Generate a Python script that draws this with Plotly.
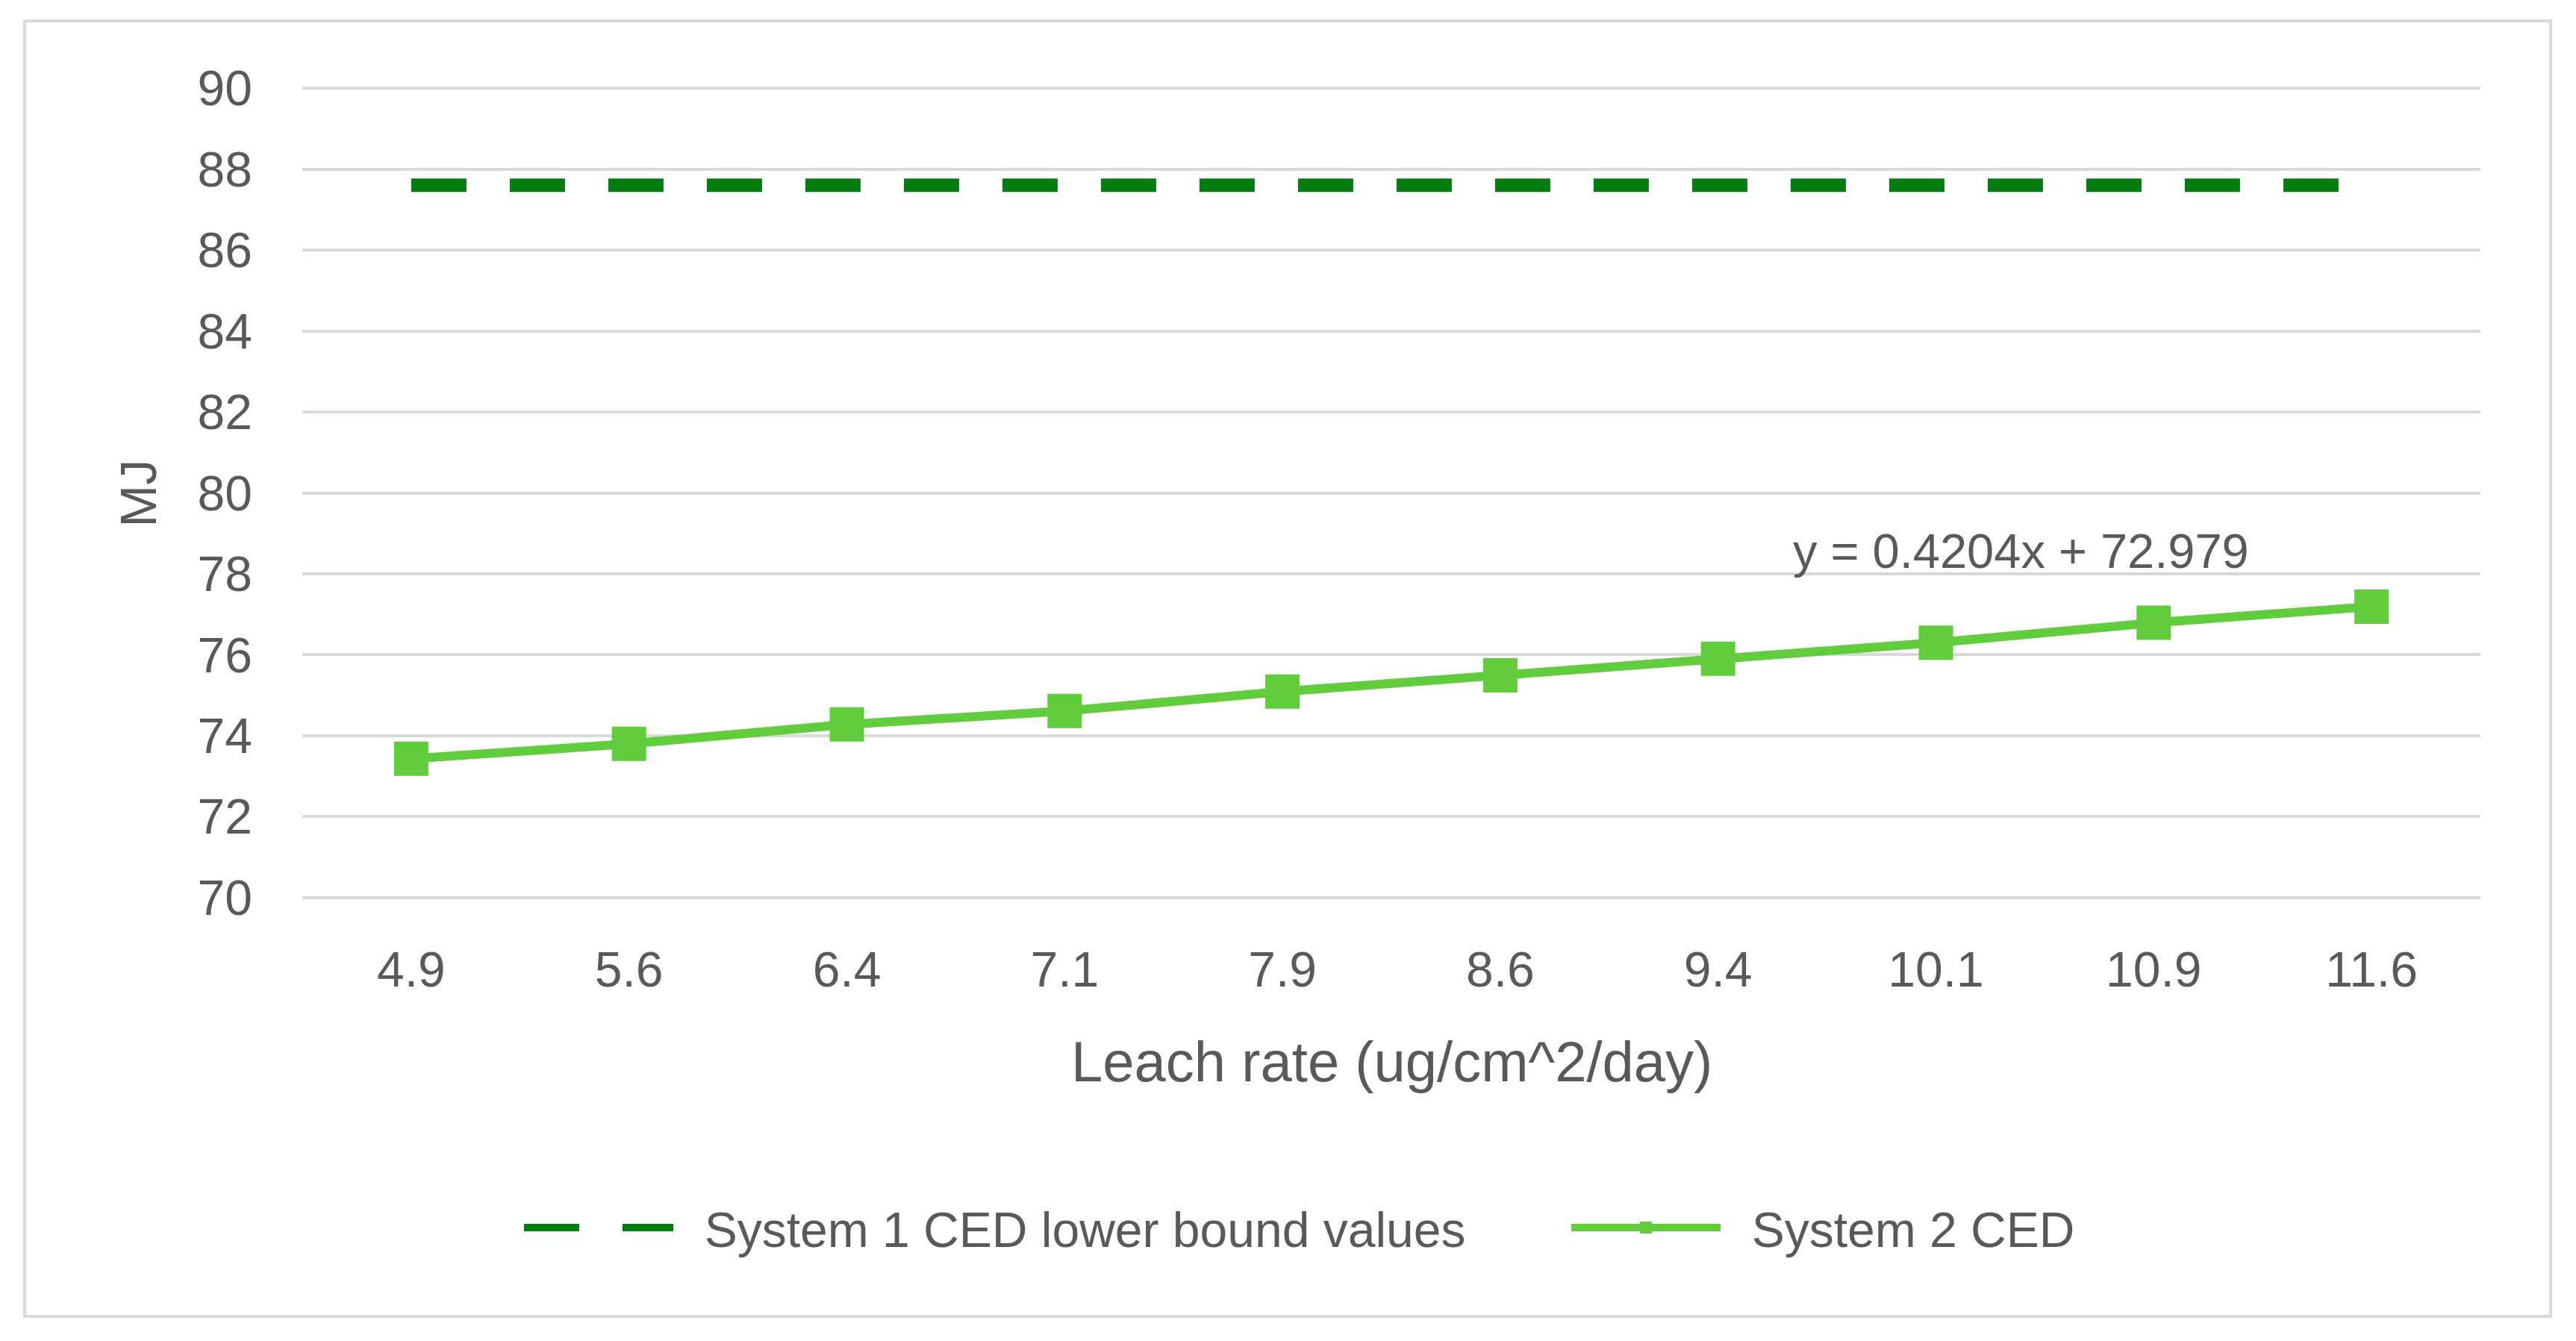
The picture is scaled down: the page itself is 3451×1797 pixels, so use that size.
import plotly.graph_objects as go

# ---- data ----
leach_rates = ["4.9", "5.6", "6.4", "7.1", "7.9", "8.6", "9.4", "10.1", "10.9", "11.6"]
system1_lower = [87.6, 87.6, 87.6, 87.6, 87.6, 87.6, 87.6, 87.6, 87.6, 87.6]
system2_ced = [73.43, 73.80, 74.28, 74.61, 75.09, 75.49, 75.90, 76.30, 76.79, 77.19]
y_ticks = [70, 72, 74, 76, 78, 80, 82, 84, 86, 88, 90]
series_names = ["System 1 CED lower bound values", "System 2 CED"]
trend_text = "y = 0.4204x + 72.979"

W, H = 3451, 1797
OFF = 8  # page offset of the plot div
ML, MR, MT, MB = 405 - OFF, 128 + OFF, 116 - OFF, 592 + OFF
TXT = "#595959"
FONT = "Liberation Sans, Arial, sans-serif"
PAD = "\u00a0\u00a0"

fig = go.Figure()
fig.add_trace(go.Scatter(
    x=leach_rates, y=system1_lower, mode="lines",
    name=PAD + series_names[0],
    line=dict(color="#037D10", width=18, dash="74px,58px"),
))
fig.add_trace(go.Scatter(
    x=leach_rates, y=system2_ced, mode="lines+markers",
    name=PAD + series_names[1],
    line=dict(color="#62CD3C", width=12),
    marker=dict(symbol="square", size=46, color="#62CD3C"),
))

pw, ph = W - ML - MR, H - MT - MB

fig.add_annotation(
    x=7.39, y=78.57, xref="x", yref="y", text=trend_text, showarrow=False,
    font=dict(family=FONT, size=65, color=TXT), xanchor="center", yanchor="middle",
)
fig.add_annotation(
    x=0.5, y=-217 / ph, xref="paper", yref="paper", text="Leach rate (ug/cm^2/day)",
    showarrow=False, font=dict(family=FONT, size=76, color=TXT),
    xanchor="center", yanchor="middle",
)
fig.add_annotation(
    x=(184 - 405) / pw, y=0.5, xref="paper", yref="paper", text="MJ",
    showarrow=False, textangle=-90, font=dict(family=FONT, size=68, color=TXT),
    xanchor="center", yanchor="middle",
)

# chart-area border
fig.add_shape(
    type="rect", xref="paper", yref="paper",
    x0=(33 - 405) / pw, x1=(3417 - 405) / pw,
    y0=(1205 - 1764) / ph, y1=(1205 - 28) / ph,
    line=dict(color="#D9D9D9", width=4), fillcolor="rgba(0,0,0,0)", layer="below",
)

fig.update_layout(
    width=W, height=H, autosize=False,
    margin=dict(l=ML, r=MR, t=MT, b=MB),
    paper_bgcolor="white", plot_bgcolor="white",
    font=dict(family=FONT, size=66, color=TXT),
    showlegend=True,
    legend=dict(
        orientation="h", xref="container", yref="container",
        x=(697 - OFF) / W, y=1 - (1645 - OFF) / H, xanchor="left", yanchor="middle",
        font=dict(family=FONT, size=66, color=TXT),
        bgcolor="rgba(0,0,0,0)", itemwidth=200, entrywidth=1188,
    ),
    xaxis=dict(
        type="category", range=[-0.5, 9.5], showgrid=False, showline=False,
        zeroline=False, ticks="", ticklabelstandoff=50,
        tickfont=dict(family=FONT, size=66, color=TXT),
    ),
    yaxis=dict(
        range=[69.96, 90.04], tickvals=y_ticks, showgrid=True, gridcolor="#D9D9D9",
        gridwidth=4, showline=False, zeroline=False, ticks="",
        ticklabelstandoff=66, tickfont=dict(family=FONT, size=66, color=TXT),
    ),
)

fig.write_html("out.html")
